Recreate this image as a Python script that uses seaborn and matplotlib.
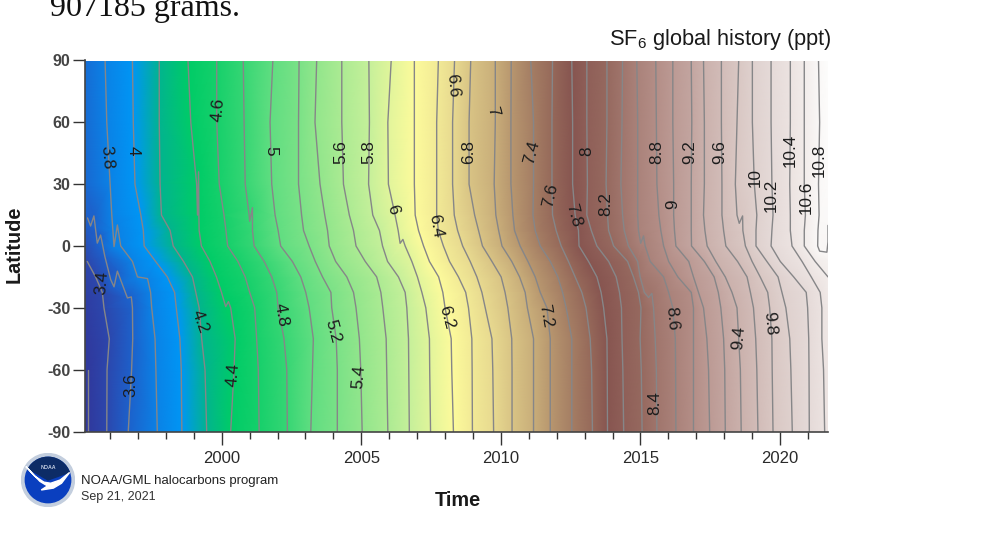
"""
SF6 global history (ppt): latitude vs time contour chart, NOAA/GML
Contours are read off the picture as the year each level crosses a latitude.
"""

import numpy as np
import pandas as pd
import matplotlib
matplotlib.use("Agg")
import matplotlib.pyplot as plt
import matplotlib.tri as mtri
from matplotlib.colors import LinearSegmentedColormap
from matplotlib.patches import Circle, Wedge, Polygon
from matplotlib.ticker import MultipleLocator
import seaborn as sns

sns.set_theme(style="ticks")
plt.rcParams["font.family"] = ["Liberation Sans", "DejaVu Sans"]
plt.rcParams["mathtext.fontset"] = "custom"
plt.rcParams["mathtext.rm"] = "Liberation Sans"
plt.rcParams["mathtext.default"] = "rm"
plt.rcParams["axes.unicode_minus"] = False

# ----------------------------------------------------------------------------
# DATA
# ----------------------------------------------------------------------------
nan = float("nan")
latitudes = [90, 60, 30, 15, 7.5, 0, -7.5, -15, -22.5, -30, -45, -60, -90]
levels = [3.2, 3.4, 3.6, 3.8, 4.0, 4.2, 4.4, 4.6, 4.8, 5.0, 5.2, 5.4, 5.6, 5.8,
          6.0, 6.2, 6.4, 6.6, 6.8, 7.0, 7.2, 7.4, 7.6, 7.8, 8.0, 8.2, 8.4, 8.6,
          8.8, 9.0, 9.2, 9.4, 9.6, 9.8, 10.0, 10.2, 10.4, 10.6, 10.8]

# year at which each level crosses each latitude (one row per level)
crossing_years = [
    [nan, nan, nan, nan, nan, nan, nan, nan, nan, nan, nan, 1995.22, 1995.22],
    [nan, nan, nan, nan, nan, nan, 1995.18, 1995.48, 1995.72, 1995.78, 1995.97, 1995.89, 1995.88],
    [nan, nan, nan, nan, nan, nan, nan, nan, nan, 1996.80, 1996.81, 1996.77, 1996.65],
    [1995.82, 1995.88, 1996.00, 1996.06, 1996.10, 1996.38, 1996.80, 1996.98, 1997.45, 1997.49, 1997.61, 1997.64, 1997.69],
    [1996.80, 1996.83, 1996.89, 1997.10, 1997.19, 1997.22, 1997.63, 1998.05, 1998.31, 1998.37, 1998.50, 1998.55, 1998.57],
    [1997.76, 1997.76, 1997.79, 1997.84, 1998.15, 1998.26, 1998.63, 1998.95, 1999.07, 1999.19, 1999.28, 1999.40, 1999.46],
    [1998.79, 1998.89, 1999.10, 1999.13, 1999.19, 1999.27, 1999.58, 1999.81, 1999.99, 2000.32, 2000.48, 2000.44, 2000.32],
    [1999.82, 1999.82, 1999.91, 2000.08, 2000.15, 2000.21, 2000.58, 2000.84, 2001.00, 2001.18, 2001.25, 2001.31, 2001.34],
    [2000.77, 2000.80, 2000.84, 2000.98, 2001.10, 2001.16, 2001.52, 2001.79, 2001.97, 2002.02, 2002.23, 2002.33, 2002.35],
    [2001.83, 2001.73, 2001.79, 2001.91, 2002.02, 2002.11, 2002.53, 2002.83, 2003.01, 2003.13, 2003.28, 2003.25, 2003.19],
    [2002.77, 2002.75, 2002.75, 2002.86, 2002.93, 2003.13, 2003.35, 2003.61, 2003.91, 2003.94, 2004.10, 2004.14, 2004.14],
    [2003.40, 2003.34, 2003.52, 2003.69, 2003.79, 2003.85, 2004.08, 2004.48, 2004.72, 2004.81, 2004.93, 2004.98, 2005.03],
    [2004.30, 2004.30, 2004.36, 2004.57, 2004.72, 2004.81, 2005.14, 2005.55, 2005.70, 2005.77, 2005.89, 2005.91, 2005.95],
    [2005.27, 2005.29, 2005.26, 2005.41, 2005.65, 2005.76, 2005.94, 2006.33, 2006.57, 2006.63, 2006.69, 2006.70, 2006.72],
    [2006.07, 2005.95, 2005.97, 2006.21, 2006.32, 2006.57, 2006.81, 2007.01, 2007.17, 2007.31, 2007.44, 2007.45, 2007.48],
    [2006.90, 2006.90, 2006.90, 2006.93, 2007.05, 2007.23, 2007.44, 2007.77, 2007.92, 2008.00, 2008.22, 2008.24, 2008.30],
    [2007.76, 2007.70, 2007.70, 2007.70, 2007.76, 2007.94, 2008.16, 2008.48, 2008.74, 2008.84, 2008.96, 2008.97, 2008.98],
    [2008.34, 2008.27, 2008.27, 2008.33, 2008.45, 2008.63, 2008.90, 2009.14, 2009.32, 2009.44, 2009.68, 2009.71, 2009.74],
    [2008.92, 2008.86, 2008.86, 2009.06, 2009.20, 2009.34, 2009.68, 2010.01, 2010.15, 2010.25, 2010.39, 2010.40, 2010.40],
    [2009.80, 2009.80, 2009.76, 2009.82, 2009.92, 2010.04, 2010.39, 2010.67, 2010.87, 2010.95, 2011.17, 2011.17, 2011.17],
    [2010.37, 2010.36, 2010.36, 2010.43, 2010.49, 2010.69, 2010.97, 2011.23, 2011.41, 2011.65, 2011.77, 2011.77, 2011.77],
    [2011.07, 2011.17, 2011.17, 2011.15, 2011.23, 2011.41, 2011.77, 2012.04, 2012.21, 2012.34, 2012.54, 2012.54, 2012.54],
    [2011.85, 2011.83, 2011.83, 2011.85, 2011.98, 2012.16, 2012.42, 2012.66, 2012.90, 2013.05, 2013.20, 2013.25, 2013.28],
    [2012.54, 2012.57, 2012.57, 2012.66, 2012.78, 2012.80, 2013.14, 2013.44, 2013.59, 2013.68, 2013.80, 2013.81, 2013.82],
    [2013.08, 2013.08, 2013.10, 2013.08, 2013.24, 2013.44, 2013.86, 2014.13, 2014.25, 2014.32, 2014.34, 2014.37, 2014.40],
    [2013.80, 2013.80, 2013.77, 2013.82, 2013.86, 2014.04, 2014.54, 2014.75, 2014.93, 2015.02, 2014.99, 2015.03, 2015.06],
    [2014.36, 2014.34, 2014.30, 2014.36, 2014.42, 2014.57, 2014.90, 2014.99, 2015.14, 2015.47, 2015.53, 2015.57, 2015.59],
    [2014.87, 2014.90, 2014.90, 2014.90, 2014.93, 2015.17, 2015.35, 2015.83, 2016.01, 2016.16, 2016.25, 2016.26, 2016.27],
    [2015.55, 2015.57, 2015.59, 2015.66, 2015.73, 2015.83, 2016.01, 2016.34, 2016.82, 2016.90, 2016.90, 2016.90, 2016.90],
    [2016.16, 2016.16, 2016.19, 2016.19, 2016.22, 2016.27, 2016.73, 2016.90, 2017.08, 2017.26, 2017.38, 2017.44, 2017.48],
    [2016.82, 2016.84, 2016.82, 2016.82, 2016.82, 2016.83, 2017.29, 2017.64, 2017.79, 2017.88, 2017.98, 2018.02, 2018.04],
    [2017.26, 2017.29, 2017.29, 2017.26, 2017.31, 2017.39, 2017.70, 2018.04, 2018.28, 2018.46, 2018.52, 2018.58, 2018.61],
    [2017.90, 2017.90, 2017.92, 2017.92, 2017.98, 2018.06, 2018.48, 2018.82, 2018.94, 2019.05, 2019.13, 2019.17, 2019.21],
    [2018.52, 2018.46, 2018.40, 2018.46, 2018.67, 2018.76, 2019.00, 2019.29, 2019.56, 2019.63, 2019.71, 2019.72, 2019.75],
    [2019.01, 2019.01, 2019.08, 2019.17, 2019.14, 2019.14, 2019.53, 2019.93, 2020.07, 2020.21, 2020.35, 2020.39, 2020.44],
    [2019.68, 2019.68, 2019.71, 2019.75, 2019.71, 2019.68, 2020.01, 2020.49, 2020.94, 2020.99, 2021.03, 2021.04, 2021.05],
    [2020.37, 2020.37, 2020.35, 2020.37, 2020.37, 2020.43, 2020.79, 2021.12, 2021.44, 2021.50, 2021.50, 2021.56, 2021.60],
    [2020.87, 2020.87, 2020.87, 2020.91, 2020.87, 2020.87, 2021.26, 2021.72, nan, nan, nan, nan, nan],
    [2021.38, 2021.42, 2021.38, 2021.40, 2021.36, 2021.35, nan, nan, nan, nan, nan, nan, nan],
]

# spikes and zigzags that go back up in latitude: level, the latitude column
# they follow, then the point itself
kink_levels = [3.6] * 11 + [3.8, 3.8, 3.8, 4.4, 4.4, 4.4, 4.4, 4.8, 4.8,
                            6.0, 6.0, 8.4, 8.4, 8.6, 8.6, 9.8, 9.8] + [10.8] * 4
kink_after = [90] * 11 + [7.5, 7.5, -15, 15, 15, -22.5, -22.5, 15, 15,
                          7.5, 7.5, -22.5, -22.5, 7.5, 7.5, 15, 15] + [0] * 4
kink_lats = [13.6, 9.7, 14.6, 1.4, 5.3, -5, -16.3, -19.8, -12.2, -25.2, -24.7,
             -0.3, 10.2, -15.8, 36, 15, -29.4, -27, 12, 18.6,
             1.3, 3.2, -25, -23, 1.3, 4.9, 11, 14.6,
             -2.5, -3, 2, 10]
kink_years = [1995.19, 1995.30, 1995.42, 1995.54, 1995.66, 1995.81, 1996.02, 1996.14, 1996.26, 1996.62, 1996.76,
              1996.14, 1996.26, 1997.34, 1999.17, 1999.18, 2000.14, 2000.24, 2001.00, 2001.10,
              2006.39, 2006.49, 2015.29, 2015.41, 2015.01, 2015.11, 2018.54, 2018.66,
              2021.42, 2021.68, 2021.72, 2021.72]

# values along the left and right edges of the field, one per latitude
start_year = 1995.1
end_year = 2021.72
start_values = [3.68, 3.66, 3.64, 3.60, 3.52, 3.45, 3.40, 3.32, 3.28, 3.25, 3.21, 3.20, 3.18]
end_values = [10.90, 10.88, 10.87, 10.83, 10.79, 10.76, 10.68, 10.60, 10.55, 10.50, 10.46, 10.44, 10.42]

# inline contour labels: text, year, latitude, rotation
label_texts = ["3.8", "4", "4.6", "5", "5.6", "5.8", "6.6", "7", "6.8", "7.4", "7.6",
               "7.8", "6.4", "6", "8", "8.2", "8.8", "9.2", "9.6", "9", "10", "10.2",
               "10.4", "10.6", "10.8", "3.4", "3.6", "4.2", "4.4", "4.8", "5.2", "5.4",
               "6.2", "7.2", "8.4", "8.6", "9.4", "9.8"]
label_years = [1995.89, 1996.82, 1999.87, 2001.77, 2004.28, 2005.28, 2008.29, 2009.69,
               2008.83, 2011.12, 2011.77, 2012.59, 2007.68, 2006.14, 2013.09, 2013.77,
               2015.57, 2016.76, 2017.83, 2016.14, 2019.11, 2019.69, 2020.37, 2020.94,
               2021.41, 1995.71, 1996.75, 1999.22, 2000.41, 2002.13, 2003.99, 2004.92,
               2008.04, 2011.62, 2015.53, 2016.14, 2018.51, 2019.65]
label_lats = [42.7, 46, 66, 46, 45.6, 45.6, 78, 65.5, 45.6, 45.6, 24.7, 15, 9.7, 17.5,
              46, 20.4, 45.6, 45.6, 45.6, 20.4, 33, 24.7, 46.6, 23.8, 41.7, -18, -67.4,
              -36.9, -62.6, -33.5, -41.2, -63.6, -34.4, -34, -76.2, -35.4, -44.6, -37.4]
label_rots = [-85, -90, 85, -90, 90, 90, -85, -75, 90, 75, 77, -75, -80, -75, 90, 90,
              90, 90, 90, 90, 90, 90, 90, 90, 90, 85, 90, -70, 85, -80, -75, 85, -75,
              -80, 90, -85, 85, -85]

# colour scale stops
color_levels = [3.18, 3.4, 3.6, 3.8, 4.0, 4.2, 4.4, 4.7, 5.0, 5.4, 5.8, 6.2, 6.6, 7.0,
                7.4, 7.8, 8.2, 8.8, 9.4, 10.0, 10.6, 10.95]
color_hexes = ["#30389c", "#2c48ae", "#1c62cc", "#0a84e8", "#0096f6", "#02b48e", "#00cc66",
               "#22d26e", "#62de82", "#92e68c", "#c6f09a", "#fdfb9c", "#e8da90", "#c9ae7a",
               "#a67f64", "#875550", "#96695f", "#b48e87", "#cbb1ac", "#dfd1ce", "#f2ecea",
               "#ffffff"]

# ----------------------------------------------------------------------------
# BUILD TABLES
# ----------------------------------------------------------------------------
lines = pd.DataFrame(crossing_years, index=levels, columns=latitudes)
lines = lines.rename_axis("level").reset_index().melt("level", var_name="lat", value_name="year")
lines["lat"] = lines["lat"].astype(float)
lines = lines.dropna(subset=["year"])
lines["order"] = -lines["lat"]

kinks = pd.DataFrame({"level": kink_levels, "lat": kink_lats, "year": kink_years})
# small step so kinks stay in listed order just after their column
kinks["order"] = [-a + 0.01 * (i + 1) for i, a in enumerate(kink_after)]

contours = pd.concat([lines, kinks], ignore_index=True).sort_values(["level", "order"])

edges = pd.DataFrame({
    "year": [start_year] * len(latitudes) + [end_year] * len(latitudes),
    "lat": latitudes + latitudes,
    "level": start_values + end_values,
})
field = pd.concat([contours[contours["year"] < end_year], edges], ignore_index=True)

vmin, vmax = color_levels[0], color_levels[-1]
stops = [(v - vmin) / (vmax - vmin) for v in color_levels]
cmap = LinearSegmentedColormap.from_list("sf6", list(zip(stops, color_hexes)), N=512)

# ----------------------------------------------------------------------------
# PLOT
# ----------------------------------------------------------------------------
W, H = 994, 542
fig = plt.figure(figsize=(W / 100, H / 100), dpi=100, facecolor="white")
ax = fig.add_axes([85 / W, 1 - 431.5 / H, 743 / W, 371 / H])

# triangulate with latitude squeezed so neighbours link along the contours
x, y, z = field["year"].values, field["lat"].values.astype(float), field["level"].values
triangles = mtri.Triangulation(x, y / 12).triangles
ax.tripcolor(mtri.Triangulation(x, y, triangles), z, shading="gouraud",
             cmap=cmap, vmin=vmin, vmax=vmax, zorder=1)

sns.lineplot(data=contours, x="year", y="lat", units="level", estimator=None, sort=False,
             color="#868688", linewidth=1.0, legend=False, ax=ax, zorder=2)

for text, yr, lat, rot in zip(label_texts, label_years, label_lats, label_rots):
    ax.text(yr, lat, text, rotation=rot, ha="center", va="center", fontsize=12.3,
            color="#1c1c1c", rotation_mode="anchor", zorder=3)

ax.set_xlim(start_year, end_year)
ax.set_ylim(-90, 90)
ax.set_xlabel("")
ax.set_ylabel("")
ax.set_yticks([-90, -60, -30, 0, 30, 60, 90])
ax.xaxis.set_major_locator(MultipleLocator(5))
ax.xaxis.set_minor_locator(MultipleLocator(1))
ax.tick_params(axis="both", which="major", length=9, width=1, color="#333333",
               labelcolor="#2a2a2a", labelsize=12, pad=5)
ax.tick_params(axis="y", which="major", labelsize=11.5, pad=1.5)
ax.tick_params(axis="x", which="minor", length=5, width=1, color="#333333")
for lbl in ax.get_yticklabels():
    lbl.set_fontweight("bold")
    lbl.set_color("#444444")
for name in ["top", "right"]:
    ax.spines[name].set_visible(False)
for name in ["left", "bottom"]:
    ax.spines[name].set_color("#444444")
    ax.spines[name].set_linewidth(1.2)

fig.text(832 / W, 1 - 40 / H, "SF$_6$ global history (ppt)", ha="right", va="center",
         fontsize=15.7, color="#1a1a1a")
fig.text(14 / W, 1 - 244 / H, "Latitude", rotation=90, ha="center", va="center",
         fontsize=14.3, fontweight="bold", color="#1a1a1a")
fig.text(458 / W, 1 - 500 / H, "Time", ha="center", va="center",
         fontsize=14.3, fontweight="bold", color="#1a1a1a")
fig.text(81 / W, 1 - 481 / H, "NOAA/GML halocarbons program", ha="left", va="center",
         fontsize=9.5, color="#222222")
fig.text(81 / W, 1 - 497 / H, "Sep 21, 2021", ha="left", va="center",
         fontsize=9, color="#333333")
fig.text(50 / W, 1 - 16 / H, "907185 grams.", ha="left", va="baseline",
         fontsize=23, family="Liberation Serif", color="#111111")

# NOAA logo
logo = fig.add_axes([21 / W, 1 - 507 / H, 54 / W, 54 / H])
logo.set_xlim(-1, 1)
logo.set_ylim(-1, 1)
logo.axis("off")
logo.add_patch(Circle((0, 0), 0.98, color="#c3cede"))
logo.add_patch(Circle((0, 0), 0.84, color="#0a3fbf"))
logo.add_patch(Wedge((0, 0), 0.84, 20, 150, color="#0d2c66"))
logo.add_patch(Polygon([(-0.82, 0.5), (-0.5, 0.15), (-0.15, -0.08), (0.1, -0.12), (0.45, 0.0),
                        (0.8, 0.28), (0.5, -0.12), (0.2, -0.3), (-0.25, -0.37), (-0.02, -0.22),
                        (-0.3, -0.05)], color="white"))
logo.text(0, 0.48, "NOAA", ha="center", va="center", fontsize=3.8, color="#c8d2e4",
          fontweight="bold")

fig.savefig("out.png", dpi=100)
